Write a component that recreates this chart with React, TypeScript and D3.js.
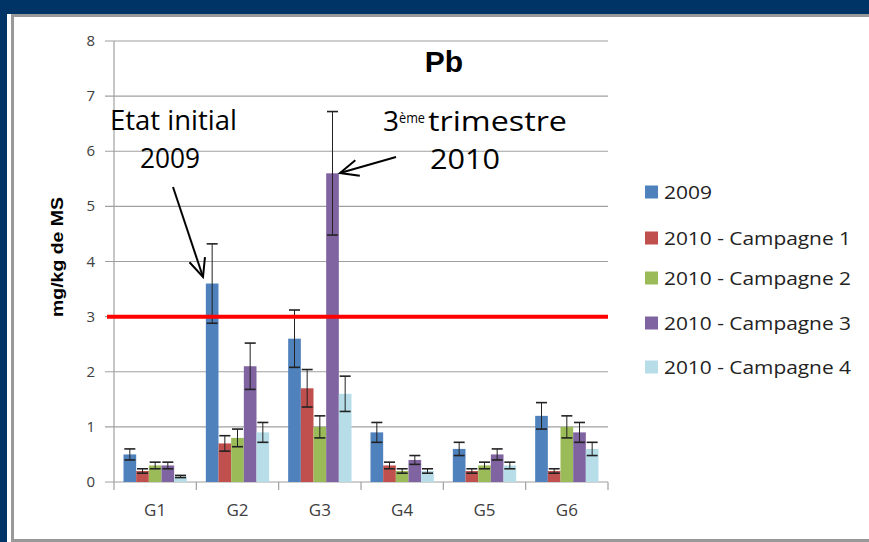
import React from "react";
import * as d3 from "d3";

const groups = ["G1", "G2", "G3", "G4", "G5", "G6"];
const seriesNames = ["2009", "2010 - Campagne 1", "2010 - Campagne 2", "2010 - Campagne 3", "2010 - Campagne 4"];
const seriesColors = ["#4F81BD", "#C0504D", "#9BBB59", "#8064A2", "#B7DEE8"];
const v2009 = [0.5, 3.6, 2.6, 0.9, 0.6, 1.2];
const vC1 = [0.2, 0.7, 1.7, 0.3, 0.2, 0.2];
const vC2 = [0.3, 0.8, 1.0, 0.2, 0.3, 1.0];
const vC3 = [0.3, 2.1, 5.6, 0.4, 0.5, 0.9];
const vC4 = [0.1, 0.9, 1.6, 0.2, 0.3, 0.6];
const e2009 = [0.1, 0.72, 0.52, 0.18, 0.12, 0.24];
const eC1 = [0.04, 0.14, 0.34, 0.06, 0.04, 0.04];
const eC2 = [0.06, 0.16, 0.2, 0.04, 0.06, 0.2];
const eC3 = [0.06, 0.42, 1.12, 0.08, 0.1, 0.18];
const eC4 = [0.02, 0.18, 0.32, 0.04, 0.06, 0.12];
const yTicks = [0, 1, 2, 3, 4, 5, 6, 7, 8];
const threshold = 3;

const values = [v2009, vC1, vC2, vC3, vC4];
const errors = [e2009, eC1, eC2, eC3, eC4];

export default function App() {
  const W = 869, H = 542;
  const y = d3.scaleLinear().domain([0, 8]).range([482, 41]);
  const x = d3.scaleBand().domain(groups).range([114, 608]);
  const bw = x.bandwidth() / 6.5;
  const inner = d3.scaleBand().domain(seriesNames).range([0.75 * bw, 5.75 * bw]);
  const font = "'Open Sans', 'Liberation Sans', sans-serif";

  const arrowHead = (tx: number, ty: number, fx: number, fy: number, len = 20, ang = 0.42) => {
    const a = Math.atan2(fy - ty, fx - tx);
    const p1 = [tx + len * Math.cos(a + ang), ty + len * Math.sin(a + ang)];
    const p2 = [tx + len * Math.cos(a - ang), ty + len * Math.sin(a - ang)];
    return `M${p1[0]},${p1[1]}L${tx},${ty}L${p2[0]},${p2[1]}`;
  };

  return (
    <svg width={W} height={H} style={{ position: "absolute", left: 0, top: 0 }}>
      <rect x={0} y={0} width={W} height={H} fill="#003366" />
      <rect x={7} y={14} width={W - 7} height={H - 14} fill="#ffffff" />
      <rect x={12.5} y={15.5} width={W} height={525} fill="none" stroke="#999" strokeWidth={3} />

      {/* gridlines */}
      {yTicks.map((t) => (
        <line key={"g" + t} x1={105} x2={608} y1={y(t)} y2={y(t)} stroke="#a0a0a0" strokeWidth={1.2} />
      ))}
      {/* y axis */}
      <line x1={114} x2={114} y1={y(8)} y2={y(0)} stroke="#a0a0a0" strokeWidth={1.2} />
      {yTicks.map((t) => (
        <text key={"yt" + t} x={95} y={y(t) + 5} textAnchor="end" fontFamily={font} fontSize={15} fill="#404040">
          {t}
        </text>
      ))}
      {/* x axis ticks */}
      {[...groups.map((g) => x(g)!), 608].map((px, i) => (
        <line key={"xt" + i} x1={px} x2={px} y1={y(0)} y2={y(0) + 8} stroke="#a0a0a0" strokeWidth={1.2} />
      ))}
      {groups.map((g) => (
        <text key={"xl" + g} x={x(g)! + x.bandwidth() / 2} y={516} textAnchor="middle" fontFamily={font} fontSize={17} fill="#404040">
          {g}
        </text>
      ))}

      {/* bars */}
      {seriesNames.map((s, si) =>
        groups.map((g, gi) => {
          const v = values[si][gi];
          const bx = x(g)! + inner(s)!;
          return (
            <rect key={s + g} x={bx} y={y(v)} width={inner.bandwidth()} height={y(0) - y(v)} fill={seriesColors[si]} />
          );
        })
      )}
      {/* error bars */}
      {seriesNames.map((s, si) =>
        groups.map((g, gi) => {
          const v = values[si][gi];
          const e = errors[si][gi];
          const cx = x(g)! + inner(s)! + inner.bandwidth() / 2;
          const hw = 5.5;
          return (
            <g key={"e" + s + g} stroke="#222">
              <line x1={cx} x2={cx} y1={y(v + e)} y2={y(v - e)} strokeWidth={1} />
              <line x1={cx - hw} x2={cx + hw} y1={y(v + e)} y2={y(v + e)} strokeWidth={1.6} />
              <line x1={cx - hw} x2={cx + hw} y1={y(v - e)} y2={y(v - e)} strokeWidth={1.6} />
            </g>
          );
        })
      )}

      {/* threshold line */}
      <line x1={107} x2={608} y1={y(threshold)} y2={y(threshold)} stroke="#ff0000" strokeWidth={4} />

      {/* title */}
      <text x={444} y={72} textAnchor="middle" fontFamily="'Liberation Sans', Arial, sans-serif" fontWeight="bold" fontSize={30} fill="#000">
        Pb
      </text>

      {/* y axis title */}
      <text
        transform={`translate(63,257) rotate(-90)`}
        textAnchor="middle"
        fontFamily="'Liberation Sans', Arial, sans-serif"
        fontWeight="bold"
        fontSize={16}
        fill="#000"
        textLength={120}
        lengthAdjust="spacingAndGlyphs"
      >
        mg/kg de MS
      </text>

      {/* annotations */}
      <text x={110} y={130} fontFamily={font} fontSize={28} fill="#000" textLength={127} lengthAdjust="spacingAndGlyphs">
        Etat initial
      </text>
      <text x={140} y={168} fontFamily={font} fontSize={28} fill="#000" textLength={60} lengthAdjust="spacingAndGlyphs">
        2009
      </text>
      <line x1={173} y1={187} x2={203} y2={277} stroke="#000" strokeWidth={2} />
      <path d={arrowHead(203, 277, 173, 187)} fill="none" stroke="#000" strokeWidth={2} />

      <text x={383} y={131} fontFamily={font} fontSize={28} fill="#000" textLength={16} lengthAdjust="spacingAndGlyphs">
        3
      </text>
      <text x={399} y={123} fontFamily={font} fontSize={15} fill="#000" textLength={26} lengthAdjust="spacingAndGlyphs">
        ème
      </text>
      <text x={428} y={131} fontFamily={font} fontSize={28} fill="#000" textLength={139} lengthAdjust="spacingAndGlyphs">
        trimestre
      </text>
      <text x={430} y={169} fontFamily={font} fontSize={28} fill="#000" textLength={70} lengthAdjust="spacingAndGlyphs">
        2010
      </text>
      <line x1={396} y1={157} x2={340} y2={173} stroke="#000" strokeWidth={2} />
      <path d={arrowHead(340, 173, 396, 157)} fill="none" stroke="#000" strokeWidth={2} />

      {/* legend */}
      {seriesNames.map((s, i) => {
        const ly = [192, 238, 278, 323, 367][i];
        return (
          <g key={"lg" + s}>
            <rect x={645} y={ly - 6.5} width={13} height={13} fill={seriesColors[i]} />
            <text
              x={664}
              y={ly + 7}
              fontFamily={font}
              fontSize={19}
              fill="#222"
              textLength={i === 0 ? 48 : 187}
              lengthAdjust="spacingAndGlyphs"
            >
              {s}
            </text>
          </g>
        );
      })}
    </svg>
  );
}
